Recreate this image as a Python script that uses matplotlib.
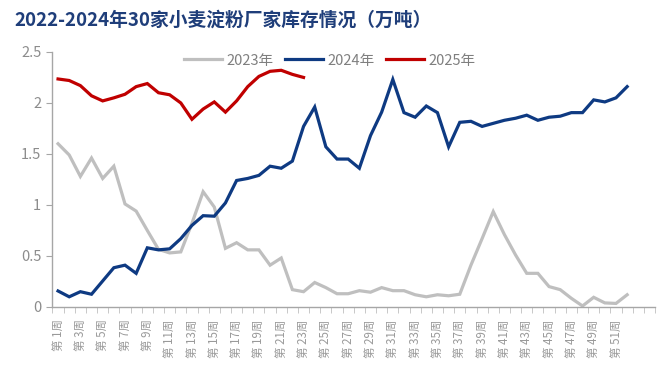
import matplotlib
matplotlib.use("Agg")
import matplotlib.pyplot as plt
from matplotlib.ticker import FixedLocator

plt.rcParams['font.family'] = ['Noto Sans CJK SC', 'DejaVu Sans']

# weeks on the category axis (54 slots, labels only for 1..52)
weeks = list(range(1, 55))
week_labels = [f"第 {w}周" if w <= 52 else "" for w in weeks]

# inventory, 10k tonnes
inv_2023 = [1.60, 1.49, 1.28, 1.46, 1.26, 1.38, 1.01, 0.94, 0.75, 0.565,
            0.53, 0.54, 0.82, 1.13, 0.98, 0.575, 0.63, 0.56, 0.56, 0.41,
            0.48, 0.17, 0.15, 0.24, 0.19, 0.13, 0.13, 0.16, 0.145, 0.19,
            0.16, 0.16, 0.12, 0.10, 0.12, 0.11, 0.125, 0.41, 0.67, 0.935,
            0.71, 0.51, 0.33, 0.33, 0.20, 0.17, 0.085, 0.01, 0.095, 0.04,
            0.035, 0.12]
inv_2024 = [0.157, 0.10, 0.15, 0.125, 0.255, 0.385, 0.41, 0.33, 0.58, 0.56,
            0.57, 0.67, 0.80, 0.895, 0.89, 1.02, 1.24, 1.26, 1.29, 1.38,
            1.36, 1.43, 1.77, 1.96, 1.57, 1.45, 1.45, 1.36, 1.68, 1.91,
            2.23, 1.905, 1.86, 1.97, 1.905, 1.57, 1.81, 1.82, 1.77, 1.80,
            1.83, 1.85, 1.88, 1.83, 1.86, 1.87, 1.905, 1.905, 2.03, 2.01,
            2.05, 2.16]
inv_2025 = [2.235, 2.22, 2.17, 2.07, 2.02, 2.05, 2.085, 2.16, 2.19, 2.10,
            2.08, 2.00, 1.84, 1.94, 2.01, 1.91, 2.02, 2.16, 2.26, 2.31,
            2.32, 2.28, 2.25]

series_names = ["2023年", "2024年", "2025年"]
colors = ["#BFBFBF", "#0E3A82", "#C00000"]

fig = plt.figure(figsize=(6.6, 3.67), dpi=100)
ax = fig.add_axes([0.0795, 0.1635, 0.913, 0.695])

for name, vals, c in zip(series_names, [inv_2023, inv_2024, inv_2025], colors):
    ax.plot(weeks[:len(vals)], vals, color=c, linewidth=2.3, label=name,
            solid_joinstyle='miter')

ax.set_xlim(0.5, 54.5)
ax.set_ylim(0, 2.5)
ax.set_yticks([0, 0.5, 1, 1.5, 2, 2.5])
ax.set_yticklabels(["0", "0.5", "1", "1.5", "2", "2.5"])

odd = [w for w in weeks if w % 2 == 1 and w <= 52]
ax.set_xticks(odd)
ax.set_xticklabels([week_labels[w - 1] for w in odd], rotation=90,
                   fontsize=8.3, color="#9A9A9A", va="top")
ax.xaxis.set_minor_locator(FixedLocator([w + 0.5 for w in range(0, 55)]))
ax.tick_params(axis='x', which='major', length=0, pad=9)
ax.tick_params(axis='x', which='minor', length=4, color="#BFBFBF", direction='out')
ax.tick_params(axis='y', length=4, color="#A6A6A6", labelcolor="#8C8C8C",
               labelsize=10.5, pad=4)

for s in ["top", "right"]:
    ax.spines[s].set_visible(False)
for s in ["left", "bottom"]:
    ax.spines[s].set_color("#A6A6A6")
    ax.spines[s].set_linewidth(1.0)

leg = ax.legend(loc="upper center", bbox_to_anchor=(0.46, 1.045), ncol=3,
                frameon=False, fontsize=10.5, handlelength=2.6,
                columnspacing=0.8, handletextpad=0.3, labelcolor="#7F7F7F")

fig.text(0.022, 0.945, "2022-2024年30家小麦淀粉厂家库存情况（万吨）",
         fontsize=13.5, fontweight="bold", color="#1F3E7A", va="center")

fig.savefig("out.png", dpi=100)
